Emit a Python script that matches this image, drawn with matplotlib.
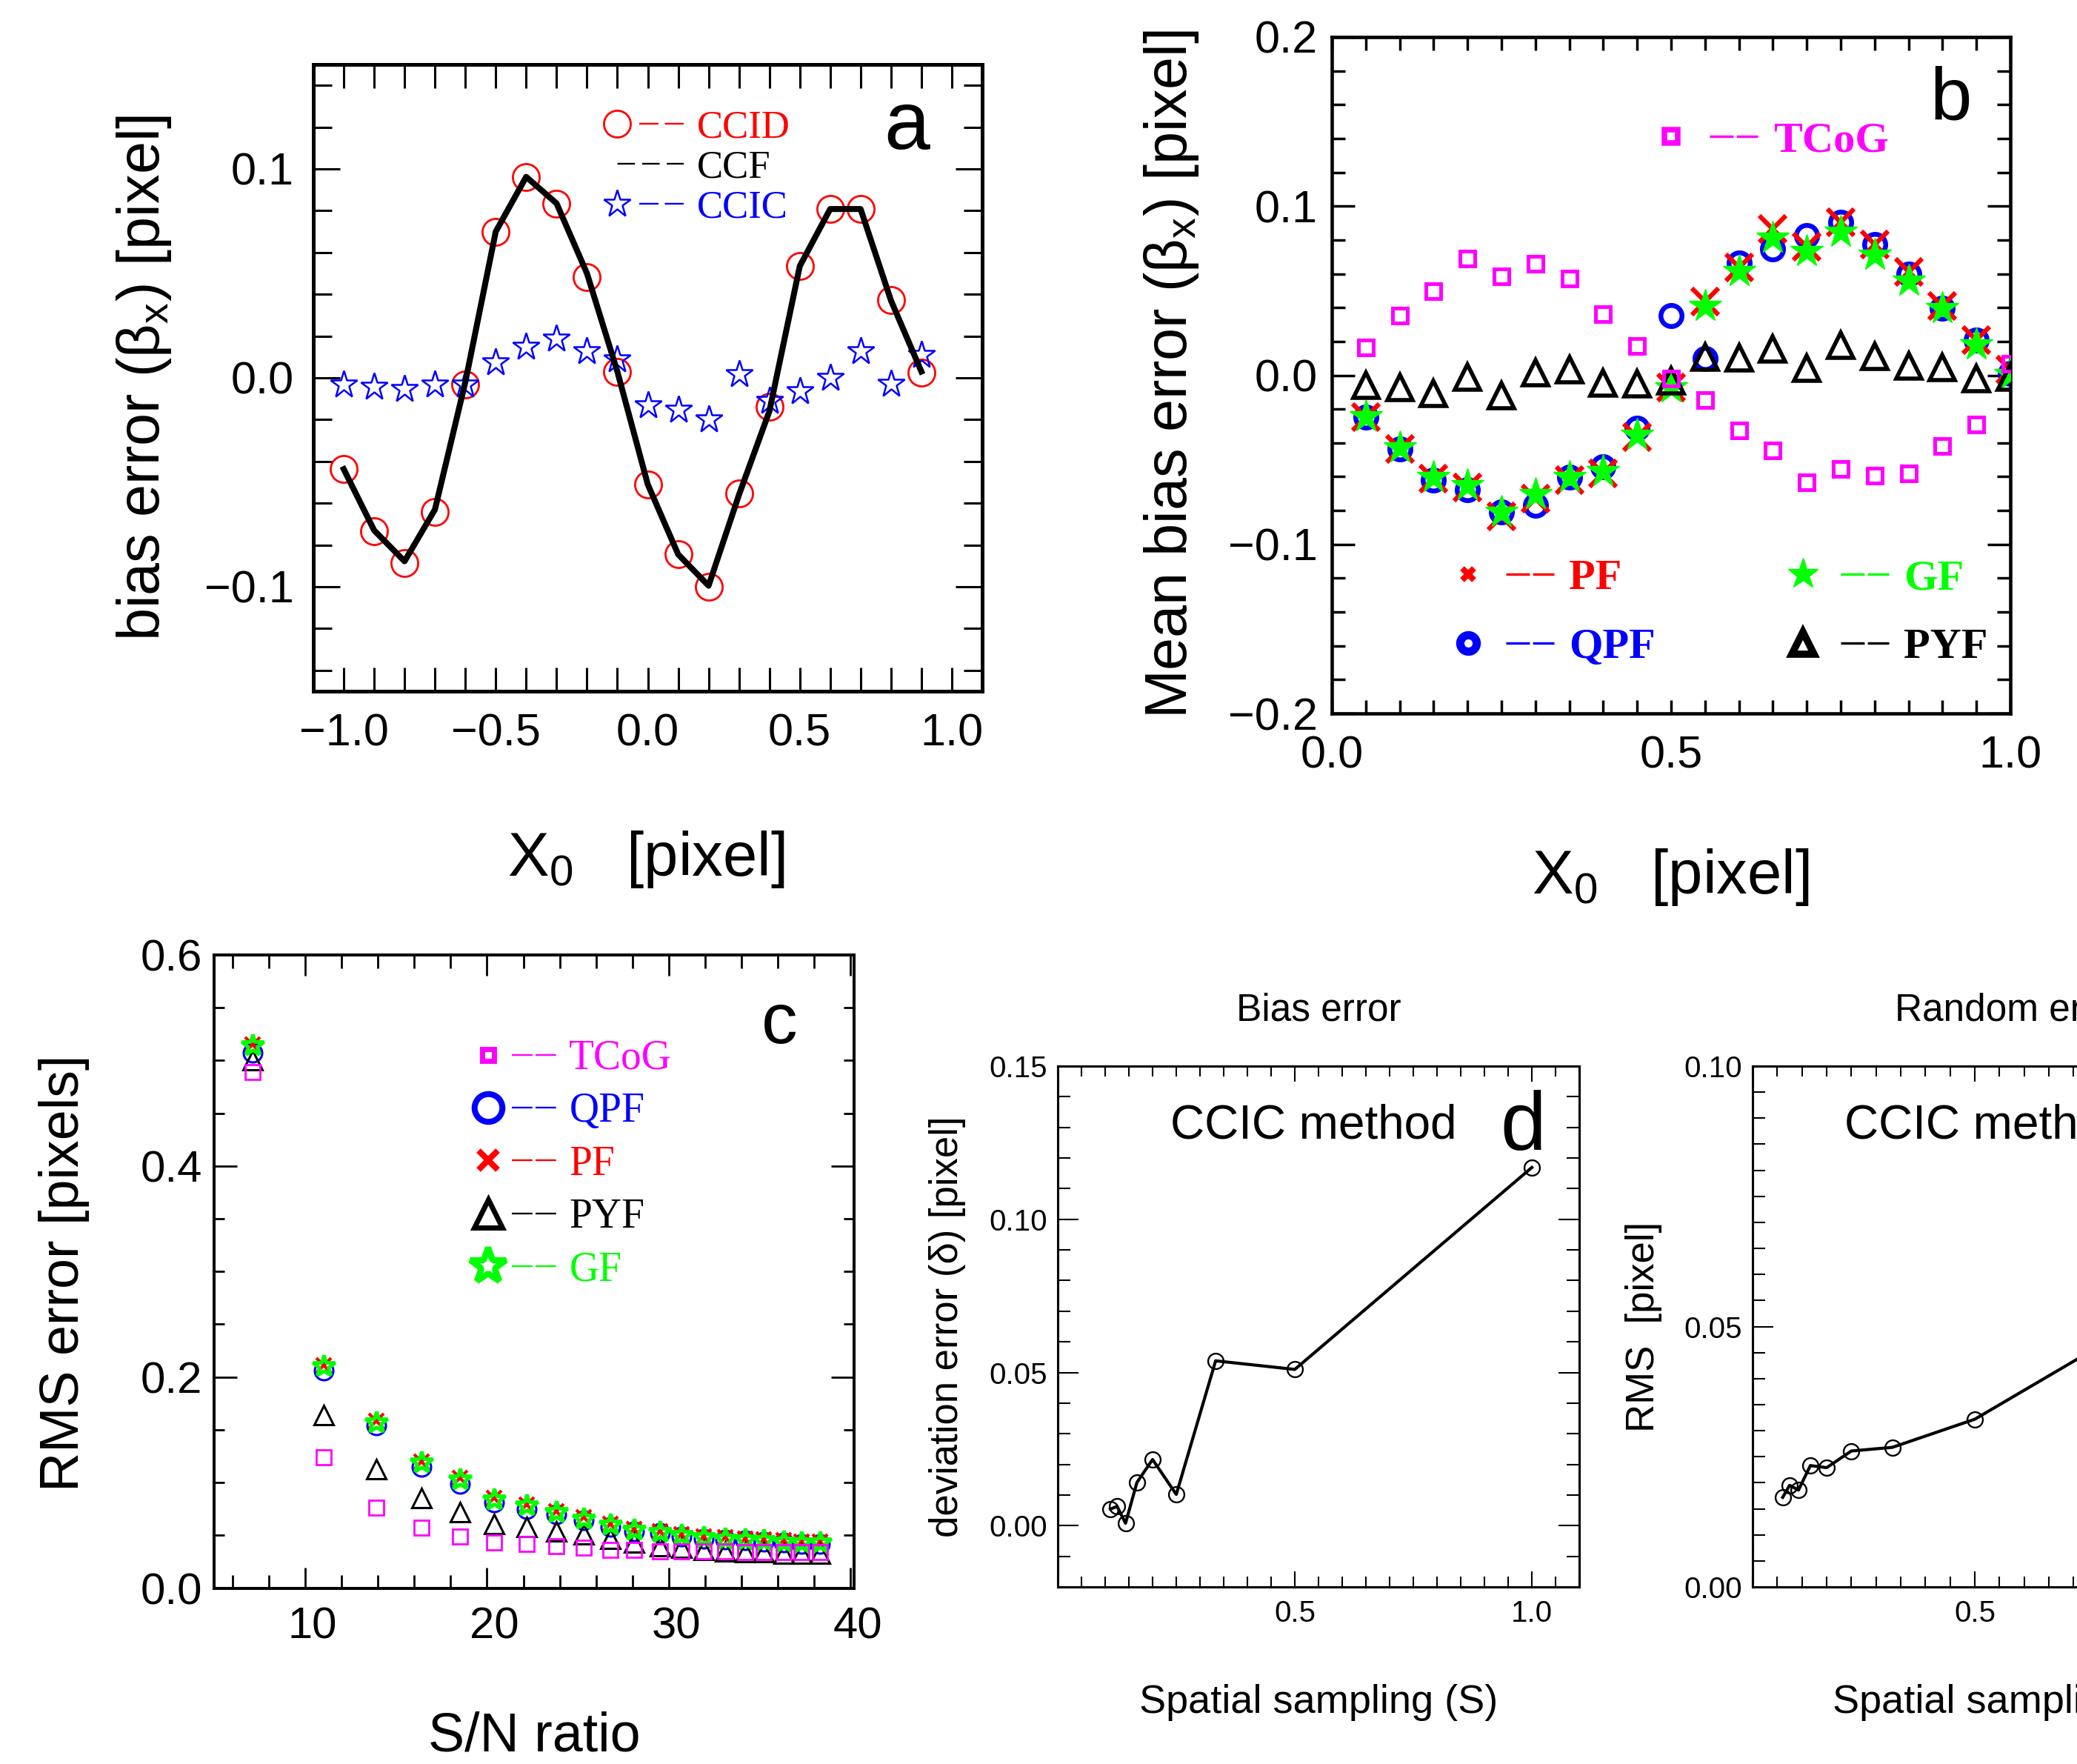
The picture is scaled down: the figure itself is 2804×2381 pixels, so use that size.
import matplotlib
matplotlib.use('Agg')
import matplotlib.pyplot as plt
from matplotlib.lines import Line2D
from matplotlib.legend_handler import HandlerTuple
from matplotlib.ticker import MultipleLocator, FixedLocator
from matplotlib.transforms import ScaledTranslation

plt.rcParams['font.family'] = ['Liberation Sans', 'DejaVu Sans']
plt.rcParams['mathtext.fontset'] = 'custom'
plt.rcParams['mathtext.rm'] = 'Liberation Sans'
plt.rcParams['mathtext.it'] = 'Liberation Sans:italic'
plt.rcParams['lines.scale_dashes'] = False

# ---------------- data: panel a (bias error vs X0)
x_a = [-1.0, -0.9, -0.8, -0.7, -0.6, -0.5, -0.4, -0.3, -0.2, -0.1,
       0.0, 0.1, 0.2, 0.3, 0.4, 0.5, 0.6, 0.7, 0.8, 0.9]
ccid = [-0.0437, -0.0734, -0.0888, -0.0642, -0.0033, 0.0700, 0.0962, 0.0835, 0.0482, 0.0029,
        -0.0511, -0.0845, -0.0999, -0.0554, -0.0137, 0.0535, 0.0808, 0.0808, 0.0371, 0.0025]
ccf = [-0.0437, -0.0730, -0.0878, -0.0630, -0.0020, 0.0700, 0.0962, 0.0835, 0.0500, 0.0030,
       -0.0510, -0.0845, -0.0995, -0.0560, -0.0160, 0.0535, 0.0808, 0.0808, 0.0370, 0.0030]
ccic = [-0.0033, -0.0043, -0.0053, -0.0033, -0.0033, 0.0074, 0.0148, 0.0189, 0.0127, 0.0090,
        -0.0131, -0.0152, -0.0197, 0.0018, -0.0111, -0.0064, 0.0000, 0.0127, -0.0029, 0.0111]

# ---------------- data: panel b (mean bias error vs X0)
x_b = [0.05, 0.10, 0.15, 0.20, 0.25, 0.30, 0.35, 0.40, 0.45, 0.50,
       0.55, 0.60, 0.65, 0.70, 0.75, 0.80, 0.85, 0.90, 0.95, 1.00]
tcog_b = [0.0166, 0.0351, 0.0499, 0.0692, 0.0584, 0.0660, 0.0571, 0.0362, 0.0172, -0.0019,
          -0.0145, -0.0327, -0.0445, -0.0633, -0.0555, -0.0592, -0.0582, -0.0418, -0.0292, 0.0070]
pyf_b = [-0.0059, -0.0072, -0.0107, -0.0011, -0.0121, 0.0016, 0.0035, -0.0046, -0.0051, -0.0032,
         0.0107, 0.0102, 0.0155, 0.0043, 0.0177, 0.0110, 0.0056, 0.0048, -0.0019, -0.0010]
qpf_b = [-0.0247, -0.0434, -0.0622, -0.0676, -0.0810, -0.0770, -0.0603, -0.0542, -0.0314, 0.0351,
         0.0097, 0.0665, 0.0745, 0.0826, 0.0906, 0.0772, 0.0598, 0.0397, 0.0209, 0.0010]
pf_b = [-0.0247, -0.0434, -0.0609, -0.0662, -0.0836, -0.0729, -0.0622, -0.0582, -0.0367, -0.0072,
        0.0437, 0.0638, 0.0866, 0.0759, 0.0906, 0.0772, 0.0611, 0.0410, 0.0209, 0.0035]
gf_b = [-0.0241, -0.0429, -0.0603, -0.0649, -0.0810, -0.0702, -0.0603, -0.0568, -0.0354, -0.0072,
        0.0410, 0.0617, 0.0812, 0.0732, 0.0847, 0.0713, 0.0558, 0.0397, 0.0182, 0.0008]

# ---------------- data: panel c (RMS error vs S/N)
sn = [7.1, 11.0, 13.9, 16.4, 18.5, 20.4, 22.2, 23.8, 25.3, 26.8,
      28.1, 29.5, 30.7, 31.9, 33.1, 34.2, 35.2, 36.3, 37.3, 38.3]
gf_c = [0.514, 0.210, 0.157, 0.119, 0.103, 0.084, 0.078, 0.072, 0.066, 0.060,
        0.055, 0.053, 0.050, 0.048, 0.047, 0.046, 0.045, 0.044, 0.043, 0.043]
pf_c = [0.515, 0.211, 0.158, 0.120, 0.104, 0.085, 0.079, 0.073, 0.067, 0.061,
        0.056, 0.054, 0.051, 0.049, 0.048, 0.047, 0.046, 0.045, 0.044, 0.044]
qpf_c = [0.507, 0.206, 0.154, 0.115, 0.099, 0.081, 0.075, 0.070, 0.064, 0.058,
         0.054, 0.052, 0.049, 0.047, 0.046, 0.045, 0.044, 0.043, 0.042, 0.042]
pyf_c = [0.500, 0.164, 0.113, 0.085, 0.072, 0.061, 0.058, 0.054, 0.051, 0.047,
         0.043, 0.040, 0.038, 0.036, 0.035, 0.034, 0.034, 0.033, 0.033, 0.033]
tcog_c = [0.489, 0.124, 0.076, 0.057, 0.049, 0.043, 0.042, 0.040, 0.038, 0.0365,
          0.036, 0.035, 0.035, 0.035, 0.035, 0.034, 0.034, 0.034, 0.034, 0.034]

# ---------------- data: panel d (CCIC method vs spatial sampling)
s_d = [0.111, 0.125, 0.143, 0.167, 0.200, 0.250, 0.333, 0.500, 1.000]
bias_d = [0.0054, 0.0063, 0.0008, 0.0141, 0.0216, 0.0102, 0.0538, 0.0510, 0.1169]
rms_d = [0.0172, 0.0195, 0.0186, 0.0233, 0.0229, 0.0261, 0.0268, 0.0322, 0.0600]
s_ticks = [0.5, 1.0]

RED, BLUE, MAG, GRN, BLK = '#ff0000', '#0000ff', '#ff00ff', '#00ff00', '#000000'
W, H = 2804, 2381

fig = plt.figure(figsize=(W / 100, H / 100), dpi=100)


def box(l, t, w, h):
    return [l / W, (H - t - h) / H, w / W, h / H]


def style(ax, spine, tw, size, xpad, ypad, xlen, ylen):
    for s in ax.spines.values():
        s.set_linewidth(spine)
    ax.tick_params(which='both', direction='in', top=True, right=True,
                   width=tw, labelsize=size)
    ax.tick_params(axis='x', which='major', length=xlen[0], pad=xpad)
    ax.tick_params(axis='x', which='minor', length=xlen[1])
    ax.tick_params(axis='y', which='major', length=ylen[0], pad=ypad)
    ax.tick_params(axis='y', which='minor', length=ylen[1])


def legend(ax, handles, labels, colors, x, y, size, hl, pad, tpad, lsp,
           weight='normal', ncol=1, csp=1.0):
    leg = ax.legend(handles, labels, loc='center left', bbox_to_anchor=(x, y),
                    frameon=False, borderpad=0, borderaxespad=0, ncol=ncol,
                    columnspacing=csp, handlelength=hl, handletextpad=tpad,
                    labelspacing=lsp, numpoints=1,
                    prop={'family': 'Liberation Serif', 'size': size, 'weight': weight},
                    handler_map={tuple: HandlerTuple(ndivide=None, pad=pad)})
    for t, c in zip(leg.get_texts(), colors):
        t.set_color(c)
    return leg


def mk(marker, color, ms, mew, fill='none'):
    return Line2D([], [], ls='none', marker=marker, ms=ms, mew=mew, mec=color, mfc=fill)


def dash(color, lw, pattern):
    return Line2D([], [], color=color, lw=lw, ls=(0, pattern))


# ======================= panel a
ax = fig.add_axes(box(423, 87, 903, 846))
ax.plot(x_a, ccid, 'o', ms=26, mfc='none', mec=RED, mew=2, zorder=2)
ax.plot(x_a, ccic, '*', ms=28, mfc='none', mec=BLUE, mew=1.8, zorder=3)
ax.plot(x_a, ccf, '-', color=BLK, lw=5.8, zorder=4)
ax.set_xlim(-1.1, 1.1)
ax.set_ylim(-0.15, 0.15)
ax.xaxis.set_major_locator(MultipleLocator(0.5))
ax.xaxis.set_minor_locator(MultipleLocator(0.1))
ax.yaxis.set_major_locator(MultipleLocator(0.1))
ax.yaxis.set_minor_locator(MultipleLocator(0.02))
style(ax, 3.6, 2.2, 44, 21, 19, (23, 23), (26, 18))
legend(ax,
       [(mk('o', RED, 26, 2), dash(RED, 1.7, (18.7, 6.1))),
        dash(BLK, 1.7, (0.01, 22, 17, 7, 17, 7, 17, 100)),
        (mk('*', BLUE, 28, 1.8), dash(BLUE, 1.7, (18.7, 6.1)))],
       ['CCID', 'CCF', 'CCIC'], [RED, BLK, BLUE],
       0.4208, 0.835, 38, 2.27, 0.0, 0.34, 0.115)
ax.text(0.887, 0.8657, 'a', transform=ax.transAxes, ha='center', va='baseline', fontsize=80)
ax.text(-0.2525, 0.5, 'bias error (β$_{\\mathrm{x}}$) [pixel]', transform=ax.transAxes,
        rotation=90, ha='center', va='center', fontsize=57)
ax.text(0.498, -0.268, 'X$_{\\mathrm{0}}$   [pixel]', transform=ax.transAxes,
        ha='center', va='center', fontsize=60)

# ======================= panel b
ax = fig.add_axes(box(1798, 50, 916, 913))
ax.plot(x_b, qpf_b, 'o', ms=20.5, mfc='none', mec=BLUE, mew=4.7, zorder=2)
ax.plot(x_b, pf_b, 'x', ms=26, mec=RED, mew=4.5, zorder=3)
ax.plot(x_b, gf_b, '*', ms=33, mfc=GRN, mec=GRN, mew=1, zorder=4)
ax.plot(x_b, pyf_b, '^', ms=24, mfc='none', mec=BLK, mew=4, zorder=5)
ax.plot(x_b, tcog_b, 's', ms=15, mfc='none', mec=MAG, mew=3.6, zorder=6)
ax.set_xlim(0, 1.0)
ax.set_ylim(-0.2, 0.2)
ax.xaxis.set_major_locator(MultipleLocator(0.5))
ax.xaxis.set_minor_locator(MultipleLocator(0.05))
ax.yaxis.set_major_locator(MultipleLocator(0.1))
ax.yaxis.set_minor_locator(MultipleLocator(0.02))
style(ax, 3.3, 2.5, 44, 21, 14, (13, 13), (22, 13))
bdash = (23, 3)
leg1 = legend(ax, [(mk('s', MAG, 13.3, 5.4), dash(MAG, 2.4, bdash))], ['TCoG'], [MAG],
              0.465, 0.847, 42, 2.55, 0.33, 0.37, 0.68, weight='bold')
ax.add_artist(leg1)
legend(ax,
       [(mk('x', RED, 11.5, 5.8), dash(RED, 2.4, bdash)),
        (mk('o', BLUE, 16, 8), dash(BLUE, 2.4, bdash)),
        (mk('*', GRN, 31, 1, GRN), dash(GRN, 2.4, bdash)),
        (mk('^', BLK, 21, 7), dash(BLK, 2.4, bdash))],
       ['PF', 'QPF', 'GF', 'PYF'], [RED, BLUE, GRN, BLK],
       0.165, 0.1486, 42, 2.55, 0.33, 0.34, 0.68, weight='bold', ncol=2, csp=2.86)
ax.text(0.9127, 0.8777, 'b', transform=ax.transAxes, ha='center', va='baseline', fontsize=73)
ax.text(-0.236, 0.5016, 'Mean bias error (β$_{\\mathrm{x}}$) [pixel]', transform=ax.transAxes,
        rotation=90, ha='center', va='center', fontsize=57)
ax.text(0.499, -0.242, 'X$_{\\mathrm{0}}$   [pixel]', transform=ax.transAxes,
        ha='center', va='center', fontsize=60)

# ======================= panel c
ax = fig.add_axes(box(289.3, 1289, 864, 854.5))
ax.plot(sn, qpf_c, 'o', ms=18, mfc='none', mec=BLUE, mew=2.2, zorder=2)
ax.plot(sn, pf_c, 'x', ms=15, mec=RED, mew=3, zorder=3)
ax.plot(sn, pyf_c, '^', ms=19, mfc='none', mec=BLK, mew=2.2, zorder=4)
ax.plot(sn, gf_c, '*', ms=22, mfc='none', mec=GRN, mew=3.5, zorder=5)
ax.plot(sn, tcog_c, 's', ms=13.7, mfc='none', mec=MAG, mew=2, zorder=6)
ax.set_xlim(5, 40.2)
ax.set_ylim(0, 0.6)
ax.xaxis.set_major_locator(MultipleLocator(10))
ax.xaxis.set_minor_locator(MultipleLocator(2))
ax.yaxis.set_major_locator(MultipleLocator(0.2))
ax.yaxis.set_minor_locator(MultipleLocator(0.05))
style(ax, 2.9, 2, 43, 18, 12, (20, 13), (22, 10))
# the x tick labels of this panel sit a little right of their ticks
shift = ScaledTranslation(0.10, 0, fig.dpi_scale_trans)
for lab in ax.get_xticklabels():
    lab.set_transform(lab.get_transform() + shift)
cdash = (20, 3)
legend(ax,
       [(mk('s', MAG, 12, 5), dash(MAG, 1.7, cdash)),
        (mk('o', BLUE, 27, 5.8), dash(BLUE, 1.7, cdash)),
        (mk('x', RED, 19, 5.8), dash(RED, 1.7, cdash)),
        (mk('^', BLK, 28, 5), dash(BLK, 1.7, cdash)),
        (mk('*', GRN, 36, 6), dash(GRN, 1.7, cdash))],
       ['TCoG', 'QPF', 'PF', 'PYF', 'GF'], [MAG, BLUE, RED, BLK, GRN],
       0.393, 0.669, 40, 2.19, 0.04, 0.32, 0.35)
ax.text(0.8827, 0.861, 'c', transform=ax.transAxes, ha='center', va='baseline', fontsize=70)
ax.text(-0.235, 0.498, 'RMS error [pixels]', transform=ax.transAxes,
        rotation=90, ha='center', va='center', fontsize=53)
ax.text(0.4997, -0.2346, 'S/N ratio', transform=ax.transAxes,
        ha='center', va='center', fontsize=53)

# ======================= panel d, left: bias error
ax = fig.add_axes(box(1428, 1439, 704, 703))
ax.plot(s_d, bias_d, '-o', color=BLK, lw=3, ms=15, mfc='none', mec=BLK, mew=1.7)
ax.set_xlim(0, 1.1)
ax.set_ylim(-0.02, 0.15)
ax.xaxis.set_major_locator(FixedLocator(s_ticks))
ax.xaxis.set_minor_locator(MultipleLocator(0.05))
ax.yaxis.set_major_locator(MultipleLocator(0.05))
ax.yaxis.set_minor_locator(MultipleLocator(0.01))
style(ax, 2.2, 1.5, 29, 12, 10, (15, 10), (20, 12))
ax.text(0.5, 1.088, 'Bias error', transform=ax.transAxes, ha='center', va='baseline', fontsize=37)
ax.text(0.216, 0.861, 'CCIC method', transform=ax.transAxes, ha='left', va='baseline', fontsize=46)
ax.text(0.893, 0.839, 'd', transform=ax.transAxes, ha='center', va='baseline', fontsize=80)
ax.text(-0.212, 0.5, 'deviation error (δ) [pixel]', transform=ax.transAxes,
        rotation=90, ha='center', va='center', fontsize=38)
ax.text(0.5, -0.222, 'Spatial sampling (S)', transform=ax.transAxes,
        ha='center', va='center', fontsize=39)

# ======================= panel d, right: random error (cut by the page edge)
ax = fig.add_axes(box(2366, 1439, 700, 703))
ax.plot(s_d, rms_d, '-o', color=BLK, lw=3, ms=15, mfc='none', mec=BLK, mew=1.7)
ax.set_xlim(0.05, 1.1)
ax.set_ylim(0, 0.1)
ax.xaxis.set_major_locator(FixedLocator(s_ticks))
ax.xaxis.set_minor_locator(MultipleLocator(0.05))
ax.yaxis.set_major_locator(MultipleLocator(0.05))
ax.yaxis.set_minor_locator(MultipleLocator(0.005))
style(ax, 2.2, 1.5, 29, 12, 10, (15, 10), (20, 12))
ax.text(0.5, 1.088, 'Random error', transform=ax.transAxes, ha='center', va='baseline', fontsize=37)
ax.text(0.177, 0.861, 'CCIC method', transform=ax.transAxes, ha='left', va='baseline', fontsize=46)
ax.text(-0.21, 0.5, 'RMS  [pixel]', transform=ax.transAxes,
        rotation=90, ha='center', va='center', fontsize=38)
ax.text(0.5, -0.222, 'Spatial sampling (S)', transform=ax.transAxes,
        ha='center', va='center', fontsize=39)

fig.savefig('out.png', dpi=100)
